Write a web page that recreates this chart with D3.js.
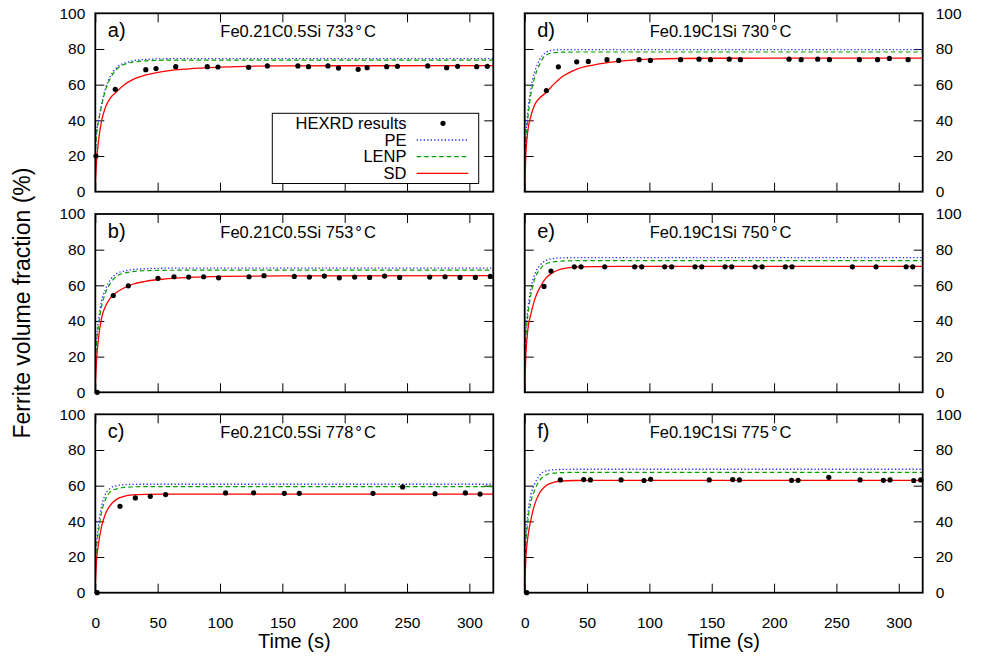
<!DOCTYPE html>
<html>
<head>
<meta charset="utf-8">
<script src="https://cdn.jsdelivr.net/npm/d3@7"></script>
<style>
  html, body { margin: 0; padding: 0; background: #fff; }
  svg { display: block; font-family: "Liberation Sans", Arial, Helvetica, sans-serif; }
</style>
</head>
<body>
<svg id="chart" width="981" height="661"></svg>
<script>
// ---------------- DATA ----------------
const timeTicks = [0, 50, 100, 150, 200, 250, 300];
const fracTicks = [0, 20, 40, 60, 80, 100];
const panelLetters = ["a)", "b)", "c)", "d)", "e)", "f)"];
const panelAlloys = ["Fe0.21C0.5Si", "Fe0.21C0.5Si", "Fe0.21C0.5Si", "Fe0.19C1Si", "Fe0.19C1Si", "Fe0.19C1Si"];
const panelTemps = ["733", "753", "778", "730", "750", "775"];
const seriesNames = ["HEXRD results", "PE", "LENP", "SD"];

// model curves sampled at these times (s)
const curveTime = [0, 1, 2.5, 5, 8, 12, 17, 23, 30, 40, 55, 75, 100, 150, 319];

const pe_a   = [20, 33, 39.5, 49, 57.5, 64.5, 69.5, 72, 73.4, 74.1, 74.5, 74.6, 74.6, 74.6, 74.6];
const lenp_a = [20, 32, 39, 48, 56.5, 63.5, 68.5, 71.3, 72.6, 73.3, 73.7, 73.8, 73.8, 73.8, 73.8];
const sd_a   = [3, 17, 28, 39.5, 47, 52.5, 56, 59.8, 62.8, 65.3, 67.5, 68.9, 69.8, 70.5, 70.7];

const pe_b   = [18, 30, 40, 51, 57.5, 63, 66.5, 68, 68.8, 69.3, 69.6, 69.7, 69.7, 69.7, 69.7];
const lenp_b = [18, 28, 37, 48, 55.5, 61, 65, 66.8, 67.7, 68.2, 68.4, 68.5, 68.5, 68.5, 68.5];
const sd_b   = [3, 18, 30, 41.5, 48, 52.8, 56, 58.5, 60.6, 62.2, 63.5, 64.4, 65, 65.3, 65.4];

const pe_c   = [18, 28, 37.5, 48.4, 55, 58.5, 60, 60.5, 60.7, 60.8, 60.8, 60.8, 60.8, 60.8, 60.8];
const lenp_c = [18, 26, 34, 45, 52, 56.5, 58.2, 59, 59.3, 59.5, 59.5, 59.5, 59.5, 59.5, 59.5];
const sd_c   = [3, 18, 27, 37, 44, 49, 52.3, 54, 54.8, 55.1, 55.2, 55.2, 55.2, 55.2, 55.2];

const pe_d   = [20, 33, 45, 58, 67, 74, 78, 79.4, 79.6, 79.6, 79.6, 79.6, 79.6, 79.6, 79.6];
const lenp_d = [20, 30, 41, 55, 64, 71.5, 76.5, 77.9, 78.2, 78.3, 78.3, 78.3, 78.3, 78.3, 78.3];
const sd_d   = [3, 22, 34, 42.5, 48.8, 52.5, 55.5, 60, 64.4, 68.2, 71, 73, 74.3, 74.8, 74.9];

const pe_e   = [22, 35, 46.5, 58.4, 66, 71, 74, 75, 75.4, 75.5, 75.5, 75.5, 75.5, 75.5, 75.5];
const lenp_e = [20, 32, 43, 55, 63.5, 68.8, 72, 73.2, 73.6, 73.8, 73.8, 73.8, 73.8, 73.8, 73.8];
const sd_e   = [3, 22, 35, 44, 52, 58.5, 64, 67.3, 69.2, 70.2, 70.5, 70.6, 70.6, 70.6, 70.6];

const pe_f   = [20, 32, 44, 55, 61, 65.8, 68.3, 68.9, 69.1, 69.2, 69.2, 69.2, 69.2, 69.2, 69.2];
const lenp_f = [18, 29, 40, 51, 57.5, 63, 66, 67, 67.3, 67.5, 67.5, 67.5, 67.5, 67.5, 67.5];
const sd_f   = [3, 20, 31, 41, 49.5, 56, 60, 61.8, 62.6, 62.9, 63, 63, 63, 63, 63];

// HEXRD measurements
const hexrdTime_a = [0.5, 16, 40.5, 48.7, 64.5, 89.8, 98.4, 123, 138, 162.5, 171, 186.6, 195, 210.8, 218, 233.7, 242.3, 266.6, 281.8, 290.6, 305.9, 314.4];
const hexrdFrac_a = [20, 57.4, 68.4, 69, 70.1, 70.1, 69.9, 69.7, 70.5, 70.5, 70.1, 70.5, 69.3, 68.6, 69.5, 70.1, 70.3, 70.5, 69.5, 70.3, 70.1, 70.3];

const hexrdTime_b = [1.5, 14.4, 26.5, 50.3, 63.1, 74.9, 86.9, 98.9, 123.3, 135.3, 159.6, 171.7, 183.7, 195.7, 208, 220, 232, 244.1, 268.2, 280.5, 292.5, 304.8, 316.8];
const hexrdFrac_b = [0, 54.3, 59.7, 63.9, 64.8, 64.6, 64.8, 64.2, 64.8, 65.4, 65, 64.6, 65.2, 64.2, 64.6, 64.4, 65.2, 64.4, 64.6, 64.8, 64.4, 64.4, 65];

const hexrdTime_c = [1.5, 19.8, 32.1, 44.1, 56.4, 104.5, 127, 151.6, 163.6, 222.7, 246.5, 272.5, 296.8, 308.6];
const hexrdFrac_c = [0, 48.4, 53.1, 54, 55, 55.9, 56, 55.7, 55.7, 55.7, 59.3, 55.5, 55.9, 55.3];

const hexrdTime_d = [17.4, 27, 41.7, 51, 66, 75.4, 91.7, 100.8, 125, 139.8, 149, 164, 173, 212, 221.7, 235, 244.4, 268.4, 283, 292.5, 307.5];
const hexrdFrac_d = [56.7, 70, 72.8, 73, 74, 73.6, 74, 73.6, 74, 74.3, 74, 74.3, 74, 74.3, 74, 74.3, 74, 74, 74, 74.7, 74];

const hexrdTime_e = [15.5, 21.1, 39.8, 45.2, 64.2, 88.2, 93.9, 112.3, 117.9, 136.6, 142, 160.7, 166, 184.8, 190.4, 209, 214.4, 262.8, 281.8, 305.9, 311.2];
const hexrdFrac_e = [59.4, 68, 70.4, 70.4, 70.4, 70.4, 70.4, 70.4, 70.4, 70.4, 70.4, 70.4, 70.4, 70.4, 70.4, 70.4, 70.4, 70.4, 70.4, 70.4, 70.4];

const hexrdTime_f = [1.6, 28.6, 47.3, 52.7, 77.3, 95.7, 101, 148, 166.8, 172.2, 214, 219.3, 243.9, 269, 287.7, 293, 312, 317.6];
const hexrdFrac_f = [0, 63.2, 63.4, 63.2, 63.2, 62.9, 63.6, 63.2, 63.4, 63.2, 63, 63, 64.7, 63.2, 63, 63.2, 62.9, 63.2];

// ---------------- LAYOUT ----------------
const panelsData = [
  {pe: pe_a, lenp: lenp_a, sd: sd_a, ht: hexrdTime_a, hf: hexrdFrac_a},
  {pe: pe_b, lenp: lenp_b, sd: sd_b, ht: hexrdTime_b, hf: hexrdFrac_b},
  {pe: pe_c, lenp: lenp_c, sd: sd_c, ht: hexrdTime_c, hf: hexrdFrac_c},
  {pe: pe_d, lenp: lenp_d, sd: sd_d, ht: hexrdTime_d, hf: hexrdFrac_d},
  {pe: pe_e, lenp: lenp_e, sd: sd_e, ht: hexrdTime_e, hf: hexrdFrac_e},
  {pe: pe_f, lenp: lenp_f, sd: sd_f, ht: hexrdTime_f, hf: hexrdFrac_f}
];
const colX = [[95.3, 493.3], [524.7, 922.7]];
const rowY = [[13.3, 191.7], [214, 392.3], [414.3, 592.7]];
const tMax = 319.2;

const styles = {
  pe:   {color: "#2a2aff", dash: "1.3 2.2", width: 1.3},
  lenp: {color: "#00a000", dash: "4.5 3", width: 1.2},
  sd:   {color: "#ff0000", dash: null, width: 1.3}
};

const svg = d3.select("#chart");
const FONT = "\"Liberation Sans\", Arial, Helvetica, sans-serif";

panelsData.forEach((pd, i) => {
  const col = i < 3 ? 0 : 1;
  const row = i % 3;
  const [x0, x1] = colX[col];
  const [y0, y1] = rowY[row];
  const x = d3.scaleLinear().domain([0, tMax]).range([x0, x1]);
  const y = d3.scaleLinear().domain([0, 100]).range([y1, y0]);
  const g = svg.append("g");

  const clipId = "clip" + i;
  svg.append("clipPath").attr("id", clipId)
    .append("rect").attr("x", x0).attr("y", y0).attr("width", x1 - x0).attr("height", y1 - y0);

  // ticks inward on all four sides (using d3 axes)
  const tickLen = 9;
  const axB = d3.axisTop(x).tickValues(timeTicks).tickSize(tickLen).tickFormat("");
  const axT = d3.axisBottom(x).tickValues(timeTicks).tickSize(tickLen).tickFormat("");
  const axL = d3.axisRight(y).tickValues(fracTicks.filter(v => v > 0 && v < 100)).tickSize(tickLen).tickFormat("");
  const axR = d3.axisLeft(y).tickValues(fracTicks.filter(v => v > 0 && v < 100)).tickSize(tickLen).tickFormat("");
  [[axB, `translate(0,${y1})`], [axT, `translate(0,${y0})`], [axL, `translate(${x0},0)`], [axR, `translate(${x1},0)`]]
    .forEach(([ax, tr]) => {
      const a = g.append("g").attr("transform", tr).call(ax);
      a.select(".domain").remove();
      a.selectAll("line").attr("stroke", "#000").attr("stroke-width", 1);
    });

  // tick labels
  if (row === 2) {
    const xl = d3.axisBottom(x).tickValues(timeTicks).tickSize(0).tickPadding(24);
    const a = g.append("g").attr("transform", `translate(0,${y1})`).call(xl);
    a.select(".domain").remove();
    a.selectAll("text").attr("font-size", 15.5).attr("font-family", FONT).attr("fill", "#000");
  }
  if (col === 0) {
    const yl = d3.axisLeft(y).tickValues(fracTicks).tickSize(0).tickPadding(10);
    const a = g.append("g").attr("transform", `translate(${x0},0)`).call(yl);
    a.select(".domain").remove();
    a.selectAll("text").attr("font-size", 15.5).attr("font-family", FONT).attr("fill", "#000");
  } else {
    const yr = d3.axisRight(y).tickValues(fracTicks).tickSize(0).tickPadding(13);
    const a = g.append("g").attr("transform", `translate(${x1},0)`).call(yr);
    a.select(".domain").remove();
    a.selectAll("text").attr("font-size", 15.5).attr("font-family", FONT).attr("fill", "#000");
  }

  // curves
  const line = d3.line().x((d, k) => x(curveTime[k])).y(d => y(d)).curve(d3.curveMonotoneX);
  ["pe", "lenp", "sd"].forEach(key => {
    const st = styles[key];
    g.append("path")
      .attr("clip-path", `url(#${clipId})`)
      .attr("d", line(pd[key]))
      .attr("fill", "none")
      .attr("stroke", st.color)
      .attr("stroke-width", st.width)
      .attr("stroke-dasharray", st.dash);
  });

  // HEXRD points
  g.selectAll("circle.pt").data(pd.ht.map((t, k) => [t, pd.hf[k]])).enter()
    .append("circle").attr("class", "pt")
    .attr("cx", d => x(d[0])).attr("cy", d => y(d[1])).attr("r", 2.6).attr("fill", "#000");

  // border
  g.append("rect").attr("x", x0).attr("y", y0).attr("width", x1 - x0).attr("height", y1 - y0)
    .attr("fill", "none").attr("stroke", "#000").attr("stroke-width", 1.8);

  // panel label and title
  g.append("text").attr("x", x0 + 12.5).attr("y", y0 + 24)
    .attr("font-size", 20).attr("font-family", FONT).text(panelLetters[i]);
  const tt = g.append("text").attr("x", x0 + 125).attr("y", y0 + 24)
    .attr("font-size", 16.5).attr("font-family", FONT);
  tt.append("tspan").text(panelAlloys[i] + " " + panelTemps[i]);
  tt.append("tspan").attr("dx", 2).text("°");
  tt.append("tspan").attr("dx", 2).text("C");

  // legend in panel a
  if (i === 0) {
    const lx0 = 272.3, ly0 = 113.3, lx1 = 478.7, ly1 = 183.5;
    const lg = g.append("g");
    lg.append("rect").attr("x", lx0).attr("y", ly0).attr("width", lx1 - lx0).attr("height", ly1 - ly0)
      .attr("fill", "#fff").attr("stroke", "#000").attr("stroke-width", 1);
    const rowsC = [123.3, 140, 156.7, 173.3];
    seriesNames.forEach((nm, k) => {
      lg.append("text").attr("x", 406.5).attr("y", rowsC[k]).attr("dy", "0.35em")
        .attr("text-anchor", "end").attr("font-size", 16.5).attr("font-family", FONT).text(nm);
      if (k === 0) {
        lg.append("circle").attr("cx", 443).attr("cy", rowsC[k]).attr("r", 2.6).attr("fill", "#000");
      } else {
        const st = styles[["pe", "lenp", "sd"][k - 1]];
        lg.append("line").attr("x1", 416.7).attr("x2", 468.3).attr("y1", rowsC[k]).attr("y2", rowsC[k])
          .attr("stroke", st.color).attr("stroke-width", st.width).attr("stroke-dasharray", st.dash);
      }
    });
  }
});

// axis titles
svg.append("text").attr("x", (colX[0][0] + colX[0][1]) / 2).attr("y", 648)
  .attr("text-anchor", "middle").attr("font-size", 20).attr("font-family", FONT).text("Time (s)");
svg.append("text").attr("x", (colX[1][0] + colX[1][1]) / 2).attr("y", 648)
  .attr("text-anchor", "middle").attr("font-size", 20).attr("font-family", FONT).text("Time (s)");
svg.append("text").attr("transform", `translate(30,${(rowY[0][0] + rowY[2][1]) / 2}) rotate(-90)`)
  .attr("text-anchor", "middle").attr("font-size", 23).attr("font-family", FONT).text("Ferrite volume fraction (%)");
</script>
</body>
</html>
